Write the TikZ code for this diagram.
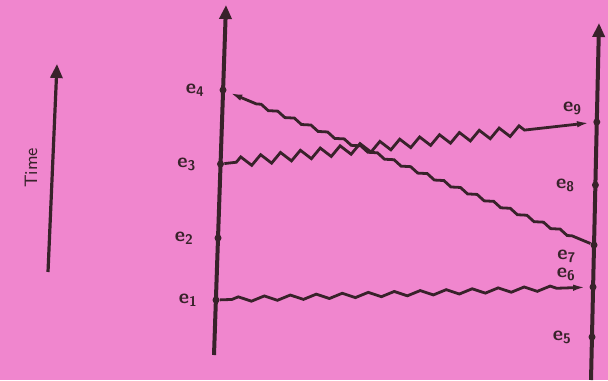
\documentclass[tikz,border=0pt]{standalone}
\usepackage{tikz}
\usetikzlibrary{arrows.meta, decorations.pathmorphing}
\definecolor{paper}{RGB}{240,134,206}
\definecolor{ink}{RGB}{56,34,42}

\begin{document}
\begin{tikzpicture}[
  x=0.5pt, y=-0.5pt,
  every node/.style = {font=\sffamily\bfseries, text=ink},
  every label/.style = {font=\sffamily\bfseries, text=ink, inner sep=0pt},
  procline/.style = {draw=ink, line width=2pt, -{Triangle[width=6pt,length=7pt]}},
  event/.style = {circle, fill=ink, inner sep=0pt, minimum size=3.5pt},
  msg/.style = {draw=ink, line width=1.4pt, -{Latex[length=8pt,width=3pt]},
    decorate, decoration={zigzag, segment length=#1, amplitude=1.2pt,
    pre length=6pt, post length=12pt}},
  msg/.default = 9pt,
  >=Latex
]
  \fill[paper] (0,0) rectangle (608,380);
  \useasboundingbox (0,0) rectangle (608,380);

  % time axis
  \coordinate (tbot) at (48,272);
  \coordinate (ttop) at (57,64);
  \draw[procline, line width=1.6pt] (tbot) -- (ttop);
  \node[rotate=90, font=\sffamily\small] (time) at (31,168) {Time};

  % process lines
  \coordinate (pbot) at (214,355);
  \coordinate (ptop) at (226,5);
  \coordinate (qbot) at (591,380);
  \coordinate (qtop) at (599,23);
  \draw[procline] (pbot) -- (ptop);
  \draw[procline] (qbot) -- (qtop);

  % events on the left process
  \node[event, label={[label distance=7pt]180:e\textsubscript{1}}] (e1) at (216,300) {};
  \node[event, label={[label distance=10pt]180:e\textsubscript{2}}] (e2) at (218,238) {};
  \node[event, label={[label distance=10pt]180:e\textsubscript{3}}] (e3) at (220.5,164) {};
  \node[event, label={[label distance=7pt]180:e\textsubscript{4}}] (e4) at (223,90) {};

  % events on the right process
  \node[event, label={[label distance=8pt]180:e\textsubscript{5}}] (e5) at (592,337) {};
  \node[event, label={[label distance=7pt]160:e\textsubscript{6}}] (e6) at (593,287) {};
  \node[event, label={[label distance=7pt]195:e\textsubscript{7}}] (e7) at (594,245) {};
  \node[event, label={[label distance=8pt]180:e\textsubscript{8}}] (e8) at (595.4,185) {};
  \node[event, label={[label distance=6pt]155:e\textsubscript{9}}] (e9) at (596.8,122) {};

  % messages
  \draw[msg=13pt] (e1) -- (e6);
  \draw[msg=10pt, decoration={amplitude=2.4pt, post length=34pt}] (e3) -- (e9);
  \draw[msg=9pt, decoration={amplitude=0.8pt, pre length=10pt, post length=14pt}] (e7) -- (e4);
\end{tikzpicture}
\end{document}
